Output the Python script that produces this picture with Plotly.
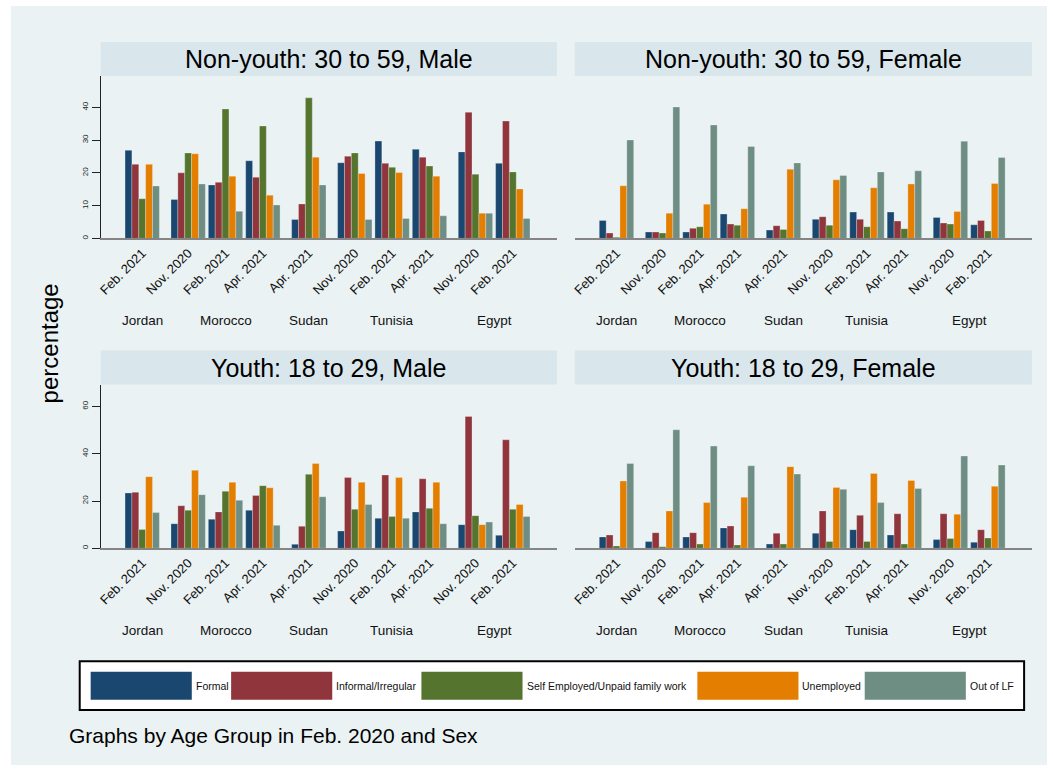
import plotly.graph_objects as go

# ---- categories -------------------------------------------------------------
countries = ["Jordan", "Morocco", "Morocco", "Morocco", "Sudan",
             "Tunisia", "Tunisia", "Tunisia", "Egypt", "Egypt"]
waves = ["Feb. 2021", "Nov. 2020", "Feb. 2021", "Apr. 2021", "Apr. 2021",
         "Nov. 2020", "Feb. 2021", "Apr. 2021", "Nov. 2020", "Feb. 2021"]
statuses = ["Formal", "Informal/Irregular", "Self Employed/Unpaid family work",
            "Unemployed", "Out of LF"]
status_colors = ["#1a476f", "#90353b", "#55752f", "#e37e00", "#6e8e84"]

# ---- Non-youth: 30 to 59, Male ---------------------------------------------
nym_formal = [26.9, 11.9, 16.3, 23.7, 5.8, 23.1, 29.7, 27.2, 26.4, 22.9]
nym_informal = [22.6, 20.0, 17.1, 18.7, 10.5, 25.1, 22.9, 24.8, 38.5, 35.8]
nym_selfemp = [12.1, 26.1, 39.5, 34.3, 42.9, 26.1, 21.7, 22.1, 19.6, 20.3]
nym_unemp = [22.6, 25.8, 19.0, 13.2, 24.8, 19.8, 20.1, 19.0, 7.7, 15.1]
nym_outlf = [16.0, 16.6, 8.3, 10.2, 16.3, 5.8, 6.1, 6.9, 7.7, 6.1]

# ---- Non-youth: 30 to 59, Female -------------------------------------------
nyf_formal = [10.2, 3.6, 3.6, 13.8, 4.7, 10.8, 14.9, 14.9, 11.9, 7.7]
nyf_informal = [3.0, 3.6, 5.7, 8.1, 7.2, 12.3, 10.8, 9.8, 8.7, 10.2]
nyf_selfemp = [0.6, 3.0, 6.6, 7.5, 5.1, 7.5, 6.6, 5.5, 8.1, 4.2]
nyf_unemp = [29.8, 14.3, 19.4, 16.8, 39.2, 33.2, 28.7, 30.8, 15.3, 31.1]
nyf_outlf = [55.8, 74.5, 64.3, 52.1, 42.8, 35.7, 37.7, 38.3, 55.1, 45.8]

# ---- Youth: 18 to 29, Male -------------------------------------------------
ym_formal = [23.4, 10.4, 12.3, 16.1, 1.7, 7.3, 12.7, 15.4, 10.0, 5.5]
ym_informal = [23.7, 18.0, 15.4, 22.3, 9.3, 29.9, 31.0, 29.4, 55.8, 45.9]
ym_selfemp = [8.0, 16.1, 24.1, 26.5, 31.3, 16.5, 13.5, 16.9, 13.8, 16.5]
ym_unemp = [30.3, 33.0, 27.9, 25.6, 35.9, 27.9, 29.9, 27.9, 10.0, 18.5]
ym_outlf = [15.1, 22.7, 20.3, 9.7, 21.8, 18.5, 12.7, 10.4, 11.1, 13.5]

# ---- Youth: 18 to 29, Female -----------------------------------------------
yf_formal = [6.4, 3.8, 6.4, 11.5, 2.4, 8.5, 10.5, 7.5, 4.9, 3.4]
yf_informal = [7.5, 8.8, 8.8, 12.6, 8.5, 21.1, 18.6, 19.5, 19.5, 10.5]
yf_selfemp = [1.3, 0.8, 2.4, 1.9, 2.4, 3.9, 3.9, 2.4, 5.5, 5.8]
yf_unemp = [38.0, 21.1, 25.8, 28.8, 46.1, 34.4, 42.3, 38.3, 19.2, 35.0]
yf_outlf = [47.9, 66.9, 57.7, 46.6, 41.9, 33.3, 25.8, 33.8, 52.1, 47.0]

panel_titles = ["Non-youth: 30 to 59, Male", "Non-youth: 30 to 59, Female",
                "Youth: 18 to 29, Male", "Youth: 18 to 29, Female"]
panel_series = [
    [nym_formal, nym_informal, nym_selfemp, nym_unemp, nym_outlf],
    [nyf_formal, nyf_informal, nyf_selfemp, nyf_unemp, nyf_outlf],
    [ym_formal, ym_informal, ym_selfemp, ym_unemp, ym_outlf],
    [yf_formal, yf_informal, yf_selfemp, yf_unemp, yf_outlf],
]
left_ticks_top = [0, 10, 20, 30, 40]
left_ticks_bottom = [0, 20, 40, 60]
right_ticks = [0, 20, 40, 60, 80]

# ---- layout geometry (pixels) ----------------------------------------------
W, H = 1053, 771
FONT = "Liberation Sans, Arial, Helvetica, sans-serif"
BG = "#eaf2f3"
STRIP = "#d9e6eb"


def fx(p):
    return p / W


def fy(p):
    return 1 - p / H


col_px = [(97, 555), (573, 1032)]
row_px = [(76, 238.7, 42), (385, 549, 351)]   # plot top, plot bottom, strip top
y_ranges = [49.6, 92.1, 69.3, 92.5]

# x positions: unit step within a country, wider step between countries
COUNTRY_GAP = 1.23
xpos = []
for i, c in enumerate(countries):
    if i == 0:
        xpos.append(0.0)
    else:
        step = 1.0 if c == countries[i - 1] else COUNTRY_GAP
        xpos.append(xpos[-1] + step)
x_range = [-1.113, 11.1]

GROUP_W = 0.92
bar_w = GROUP_W / len(statuses)

fig = go.Figure()
shapes = []
annotations = []

# outer background
shapes.append(dict(type="rect", xref="paper", yref="paper",
                   x0=fx(7), x1=fx(1047), y0=fy(766), y1=fy(6),
                   fillcolor=BG, line=dict(width=0), layer="below"))

for p in range(4):
    r, c = divmod(p, 2)
    ax = "" if p == 0 else str(p + 1)
    xa, ya = "x" + ax, "y" + ax
    x0p, x1p = col_px[c]
    top, bot, strip_top = row_px[r]

    for k, (name, col) in enumerate(zip(statuses, status_colors)):
        fig.add_trace(go.Bar(
            x=xpos, y=panel_series[p][k], name=name,
            marker=dict(color=col, line=dict(color="rgba(255,255,255,0.45)", width=0.6)),
            width=bar_w, offset=-GROUP_W / 2 + k * bar_w,
            xaxis=xa, yaxis=ya, showlegend=False,
        ))

    xaxis = dict(domain=[fx(x0p), fx(x1p)], anchor=ya, range=x_range,
                 tickvals=xpos, ticktext=waves, tickangle=-45,
                 tickfont=dict(family=FONT, size=13, color="#111"),
                 showgrid=False, zeroline=False, showline=True,
                 linecolor="#858585", linewidth=2, ticks="", fixedrange=True)
    if c == 0:
        ticks = left_ticks_top if r == 0 else left_ticks_bottom
        yaxis = dict(domain=[fy(bot), fy(top)], anchor=xa, range=[0, y_ranges[p]],
                     tickvals=ticks, ticktext=[str(t) for t in ticks],
                     tickangle=-90, tickfont=dict(family=FONT, size=8, color="#222"),
                     ticks="outside", ticklen=8, tickcolor="#222", tickwidth=1,
                     showline=True, linecolor="#222", linewidth=1,
                     showgrid=True, gridcolor=BG, gridwidth=1.5, zeroline=False)
    else:
        yaxis = dict(domain=[fy(bot), fy(top)], anchor=xa, range=[0, y_ranges[p]],
                     tickvals=right_ticks, showticklabels=False, ticks="",
                     showline=False, showgrid=True, gridcolor=BG, gridwidth=1.5,
                     zeroline=False)
    fig.layout["xaxis" + ax] = xaxis
    fig.layout["yaxis" + ax] = yaxis

    # title strip
    shapes.append(dict(type="rect", xref="paper", yref="paper",
                       x0=fx(x0p), x1=fx(x1p), y0=fy(top), y1=fy(strip_top),
                       fillcolor=STRIP, line=dict(width=0), layer="below"))
    annotations.append(dict(text=panel_titles[p], xref="paper", yref="paper",
                            x=fx((x0p + x1p) / 2), y=fy((top + strip_top) / 2),
                            showarrow=False, xanchor="center", yanchor="middle",
                            font=dict(family=FONT, size=25, color="#000")))

    # country labels under each group of waves
    seen = []
    for cn in countries:
        if cn not in seen:
            seen.append(cn)
    for cn in seen:
        xs = [xv for xv, cc in zip(xpos, countries) if cc == cn]
        annotations.append(dict(text=cn, xref=xa, yref="paper",
                                x=sum(xs) / len(xs), y=fy(bot + 82),
                                showarrow=False, xanchor="center", yanchor="middle",
                                font=dict(family=FONT, size=13.5, color="#111")))

# y-axis title
annotations.append(dict(text="percentage", xref="paper", yref="paper",
                        x=fx(46), y=fy(344), textangle=-90, showarrow=False,
                        xanchor="center", yanchor="middle",
                        font=dict(family=FONT, size=24, color="#000")))

# legend box with wide colour keys
shapes.append(dict(type="rect", xref="paper", yref="paper",
                   x0=fx(76), x1=fx(1024), y0=fy(711), y1=fy(662),
                   fillcolor="white", line=dict(color="#000", width=2)))
legend_x = [87, 228, 419, 696, 864]
key_w = 101.5
for name, col, lx in zip(statuses, status_colors, legend_x):
    shapes.append(dict(type="rect", xref="paper", yref="paper",
                       x0=fx(lx), x1=fx(lx + key_w), y0=fy(700.7), y1=fy(672.7),
                       fillcolor=col, line=dict(width=0)))
    annotations.append(dict(text=name, xref="paper", yref="paper",
                            x=fx(lx + key_w + 2), y=fy(686.5), showarrow=False,
                            xanchor="left", yanchor="middle",
                            font=dict(family=FONT, size=10.5, color="#111")))

# note
annotations.append(dict(text="Graphs by Age Group in Feb. 2020 and Sex",
                        xref="paper", yref="paper", x=fx(63), y=fy(736),
                        showarrow=False, xanchor="left", yanchor="middle",
                        font=dict(family=FONT, size=21, color="#000")))

fig.update_layout(
    width=W, height=H, autosize=False,
    margin=dict(l=0, r=0, t=0, b=0, pad=0),
    paper_bgcolor="white", plot_bgcolor="white",
    barmode="overlay", showlegend=False,
    shapes=shapes, annotations=annotations,
    font=dict(family=FONT),
)

fig.write_html("out.html")
